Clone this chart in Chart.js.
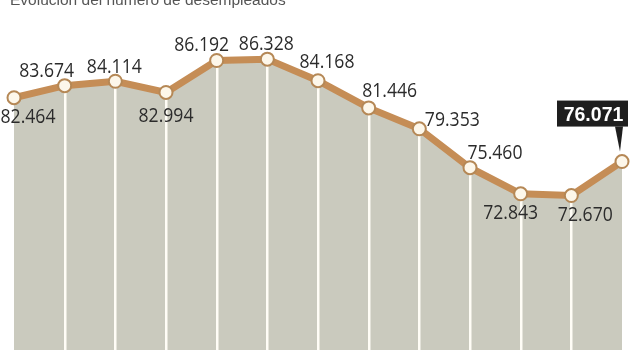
<!DOCTYPE html>
<html>
<head>
<meta charset="utf-8">
<script src="https://cdn.jsdelivr.net/npm/chart.js@4/dist/chart.umd.min.js"></script>
<style>
html,body{margin:0;padding:0;background:#ffffff;}
#wrap{position:relative;width:640px;height:360px;}
</style>
</head>
<body>
<div id="wrap"><canvas id="c" width="640" height="360"></canvas></div>
<script>
// ---- data ----
const categories = ['1','2','3','4','5','6','7','8','9','10','11','12','13'];
const unemployed = [82.464, 83.674, 84.114, 82.994, 86.192, 86.328, 84.168, 81.446, 79.353, 75.460, 72.843, 72.670, 76.071];
const valueLabels = ['82.464','83.674','84.114','82.994','86.192','86.328','84.168','81.446','79.353','75.460','72.843','72.670','76.071'];
const titleText = 'Evolución del número de desempleados';

// ---- label layout (text placement only) ----
const labelOffsets = [[14,18],[-18,-16],[-1,-16],[0,22],[-15,-17],[-1,-17],[9,-20],[21,-18],[33,-10],[25,-16],[-10,18],[14,18]];
const highlightIndex = 12;

const FILL = '#cacabe';
const LINE = '#c58d56';

function condensedText(ctx, text, x, y, sx) {
  ctx.save();
  ctx.translate(x, y);
  ctx.scale(sx, 1);
  ctx.fillText(text, 0, 0);
  ctx.restore();
}

const decorPlugin = {
  id: 'decor',
  beforeDatasetDraw(chart) {
    const meta = chart.getDatasetMeta(0);
    const ctx = chart.ctx;
    const bottom = chart.chartArea.bottom;
    ctx.save();
    ctx.strokeStyle = '#fffdf6';
    ctx.lineWidth = 2.5;
    meta.data.forEach((p, i) => {
      if (i === 0 || i === meta.data.length - 1) return;
      ctx.beginPath();
      ctx.moveTo(Math.round(p.x) + 0.25, p.y);
      ctx.lineTo(Math.round(p.x) + 0.25, bottom);
      ctx.stroke();
    });
    ctx.restore();
  },
  afterDatasetsDraw(chart) {
    const meta = chart.getDatasetMeta(0);
    const ctx = chart.ctx;
    ctx.save();
    // title (cut off at top, as in reference)
    ctx.font = '15.5px "Liberation Sans"';
    ctx.fillStyle = '#555555';
    ctx.textAlign = 'left';
    ctx.textBaseline = 'alphabetic';
    ctx.fillText(titleText, 10, 5);

    ctx.font = '20px "Open Sans"';
    ctx.fillStyle = '#2b2b2b';
    ctx.textAlign = 'center';
    ctx.textBaseline = 'alphabetic';
    meta.data.forEach((p, i) => {
      if (i === highlightIndex) return;
      const o = labelOffsets[i];
      condensedText(ctx, valueLabels[i], p.x + o[0], p.y + o[1] + 7.5, 0.88);
    });
    // highlighted last value box
    const p = meta.data[highlightIndex];
    const bx = p.x - 65, by = p.y - 61, bw = 71, bh = 26;
    ctx.fillStyle = '#1e1e1e';
    ctx.fillRect(bx, by, bw, bh);
    ctx.beginPath();
    ctx.moveTo(p.x - 7, by + bh);
    ctx.lineTo(p.x + 1, by + bh);
    ctx.lineTo(p.x - 2, p.y - 10);
    ctx.closePath();
    ctx.fill();
    ctx.fillStyle = '#ffffff';
    ctx.font = 'bold 19.5px "Liberation Sans"';
    ctx.fillText(valueLabels[highlightIndex], bx + bw / 2 + 1, by + bh / 2 + 7);
    ctx.restore();
  }
};

new Chart(document.getElementById('c'), {
  type: 'line',
  data: {
    labels: categories,
    datasets: [{
      data: unemployed,
      borderColor: LINE,
      borderWidth: 7,
      backgroundColor: FILL,
      fill: 'start',
      tension: 0,
      clip: false,
      pointRadius: 6.5,
      pointBorderWidth: 2,
      pointBackgroundColor: '#fdf7ea',
      pointBorderColor: '#b58856'
    }]
  },
  options: {
    responsive: false,
    animation: false,
    devicePixelRatio: 1,
    layout: { padding: { left: 14, right: 18, top: 0, bottom: 10 } },
    plugins: { legend: { display: false }, tooltip: { enabled: false } },
    scales: {
      x: { display: false, offset: false },
      y: { display: false, min: 57.2, max: 91.4 }
    }
  },
  plugins: [decorPlugin]
});
</script>
</body>
</html>
